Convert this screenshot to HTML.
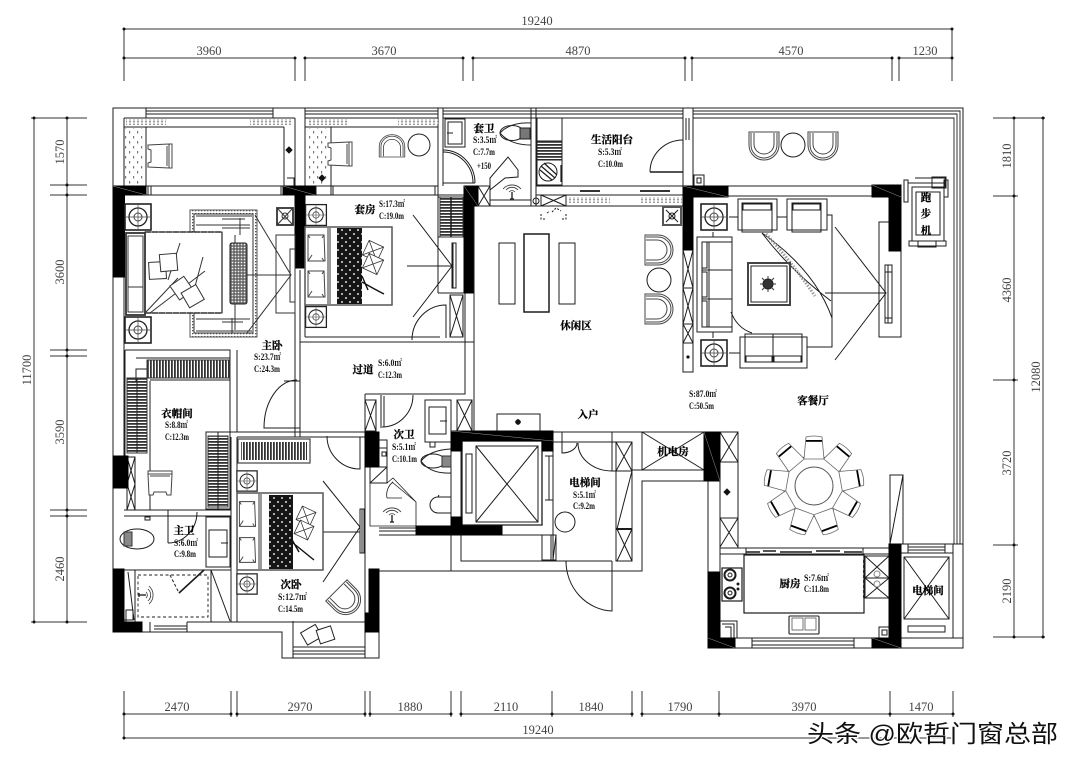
<!DOCTYPE html>
<html><head><meta charset="utf-8"><style>
html,body{margin:0;padding:0;background:#fff;width:1080px;height:767px;overflow:hidden}
svg{display:block;filter:blur(.35px)}
.d{font-family:"Liberation Serif","Noto Serif CJK SC",serif;font-size:12.5px;fill:#444;text-anchor:middle;stroke:none}
.c{font-family:"Liberation Serif","Noto Serif CJK SC",serif;font-size:10.5px;font-weight:bold;fill:#000;text-anchor:middle;stroke:#000;stroke-width:.25}
.s{font-family:"Liberation Serif","Noto Serif CJK SC",serif;font-size:9px;font-weight:bold;fill:#111;stroke:none}
.k{fill:#000;stroke:#000}
.g{stroke:#666}
</style></head><body>
<svg width="1080" height="767" viewBox="0 0 1080 767" xmlns="http://www.w3.org/2000/svg">
<defs>
<pattern id="vb" width="3" height="3" patternUnits="userSpaceOnUse"><rect width="1.8" height="3" fill="#333"/></pattern>
<pattern id="hb" width="3" height="3" patternUnits="userSpaceOnUse"><rect width="3" height="1.8" fill="#333"/></pattern>
<pattern id="dt" width="3" height="3" patternUnits="userSpaceOnUse"><rect width="3" height="3" fill="#666"/><circle cx="1.5" cy="1.5" r=".9" fill="#eee"/></pattern>
<pattern id="wv" width="4" height="3" patternUnits="userSpaceOnUse"><rect width="4" height="3" fill="#fff"/><circle cx="2" cy="1.5" r="1.1" fill="#999"/></pattern>
<pattern id="qt" width="8" height="8" patternUnits="userSpaceOnUse"><rect width="8" height="8" fill="#151515"/><circle cx="2" cy="2" r="1" fill="#ddd"/><circle cx="6" cy="6" r="1" fill="#ddd"/></pattern>
<pattern id="pl" width="8" height="10" patternUnits="userSpaceOnUse"><rect width="8" height="10" fill="#fff"/><rect x="1" y="1" width="1.2" height="2.5" fill="#777"/><rect x="5" y="6" width="1.2" height="2.5" fill="#777"/></pattern>
<pattern id="rg" width="3" height="3" patternUnits="userSpaceOnUse"><rect width="3" height="3" fill="#fff"/><rect width="1.3" height="1.3" fill="#555"/></pattern>
<g id="lamp"><rect x="-13" y="-13" width="26" height="26" fill="#fff" stroke="#222" stroke-width="1.6"/><circle r="9" fill="none" stroke="#222" stroke-width="1.3"/><circle r="4" fill="none" stroke="#444"/><path d="M-12,0H12M0,-12V12" stroke="#444" stroke-width=".7"/></g>
<g id="u"><path d="M-15,-15V-2A15,15 0 0 0 15,-2V-15ZM-13,-14V-2A13,13 0 0 0 13,-2V-14M-10,-14V-3A10,10 0 0 0 10,-3V-14" fill="#fff" stroke="#444"/></g>
<g id="chair"><path d="M-12,-11 9,-12 12,-12V12L9,12-12,11V7L-9,6V-6L-12,-7Z M9,-12V12 M7,-10V10" fill="#fff" stroke="#444"/></g>
<g id="dc"><path d="M-8,-49Q0,-51 8,-49L10,-27H-10Z" fill="#fff" stroke="#666" stroke-width=".8"/><rect x="-8" y="-46" width="16" height="1.8" fill="#000"/></g>
<g id="fan" fill="none" stroke="#333" stroke-width=".8"><path d="M-3,0A4,4 0 0 1 3,0M-6,-2A8,8 0 0 1 6,-2M-9,-3A12,12 0 0 1 9,-3"/><path d="M0,0V7M-2,7H2" stroke-width="1.5"/></g>
<g id="pillow"><path d="M-8,-13H8L9,13H-8Z M-8,-13 -6,-10M8,-13 6,-10M-8,13 -4,7M8,13 6,10" fill="#fff" stroke="#444"/></g>
<g id="sq"><path d="M-10,-10H10V10H-10Z M-10,-10 10,10M10,-10 -10,10" fill="#fff" stroke="#333"/></g>
</defs>
<rect width="1080" height="767" fill="#fff"/>

<!-- DIMENSIONS -->
<g fill="none" stroke="#333" stroke-width="1">
<path d="M124,29H952M124,29V81M124,58H295M295,58V81M305,58H463M305,58V81M463,58V81M473,58H685M473,58V81M685,58V81M692,58H892M692,58V81M892,58V81M899,58H952M899,58V81M952,29V81"/>
<path d="M31,118H87M34,118V622M67,118V622M31,622H87M50,185H87M50,195H87M50,350H87M50,356H87M50,510H87M50,516H87"/>
<path d="M993,118H1045M1014,118V637M1043,118V637M993,196H1018M993,380H1018M993,545H1018M993,637H1045"/>
<path d="M124,691V738M124,714H231M231,691V717M237,691V717M237,714H365M365,691V717M370,691V717M370,714H451M451,691V717M461,691V717M461,714H632M552,691V717M632,691V717M642,691V717M642,714H953M719,691V717M890,691V717M953,691V717M124,738H953"/>
</g>
<g fill="#111" stroke="none"><circle cx="124" cy="29" r="1.5"/><circle cx="124" cy="58" r="1.5"/><circle cx="295" cy="58" r="1.5"/><circle cx="305" cy="58" r="1.5"/><circle cx="463" cy="58" r="1.5"/><circle cx="473" cy="58" r="1.5"/><circle cx="685" cy="58" r="1.5"/><circle cx="692" cy="58" r="1.5"/><circle cx="892" cy="58" r="1.5"/><circle cx="899" cy="58" r="1.5"/><circle cx="952" cy="58" r="1.5"/><circle cx="952" cy="29" r="1.5"/>
<circle cx="34" cy="118" r="1.5"/><circle cx="67" cy="118" r="1.5"/><circle cx="67" cy="185" r="1.5"/><circle cx="67" cy="195" r="1.5"/><circle cx="67" cy="350" r="1.5"/><circle cx="67" cy="356" r="1.5"/><circle cx="67" cy="510" r="1.5"/><circle cx="67" cy="516" r="1.5"/><circle cx="67" cy="622" r="1.5"/><circle cx="34" cy="622" r="1.5"/>
<circle cx="1014" cy="118" r="1.5"/><circle cx="1043" cy="118" r="1.5"/><circle cx="1014" cy="196" r="1.5"/><circle cx="1014" cy="380" r="1.5"/><circle cx="1014" cy="545" r="1.5"/><circle cx="1014" cy="637" r="1.5"/><circle cx="1043" cy="637" r="1.5"/>
<circle cx="124" cy="714" r="1.5"/><circle cx="231" cy="714" r="1.5"/><circle cx="237" cy="714" r="1.5"/><circle cx="365" cy="714" r="1.5"/><circle cx="370" cy="714" r="1.5"/><circle cx="451" cy="714" r="1.5"/><circle cx="461" cy="714" r="1.5"/><circle cx="552" cy="714" r="1.5"/><circle cx="632" cy="714" r="1.5"/><circle cx="642" cy="714" r="1.5"/><circle cx="719" cy="714" r="1.5"/><circle cx="890" cy="714" r="1.5"/><circle cx="953" cy="714" r="1.5"/><circle cx="124" cy="738" r="1.5"/></g>
<text class="d" x="537" y="25">19240</text><text class="d" x="209" y="55">3960</text><text class="d" x="384" y="55">3670</text><text class="d" x="578" y="55">4870</text><text class="d" x="791" y="55">4570</text><text class="d" x="925" y="55">1230</text>
<text class="d" transform="translate(64,152) rotate(-90)">1570</text><text class="d" transform="translate(64,272) rotate(-90)">3600</text><text class="d" transform="translate(64,432) rotate(-90)">3590</text><text class="d" transform="translate(64,569) rotate(-90)">2460</text><text class="d" transform="translate(31,370) rotate(-90)">11700</text>
<text class="d" transform="translate(1011,156) rotate(-90)">1810</text><text class="d" transform="translate(1011,290) rotate(-90)">4360</text><text class="d" transform="translate(1011,463) rotate(-90)">3720</text><text class="d" transform="translate(1011,591) rotate(-90)">2190</text><text class="d" transform="translate(1040,377) rotate(-90)">12080</text>
<text class="d" x="177" y="711">2470</text><text class="d" x="300" y="711">2970</text><text class="d" x="410" y="711">1880</text><text class="d" x="506" y="711">2110</text><text class="d" x="591" y="711">1840</text><text class="d" x="680" y="711">1790</text><text class="d" x="804" y="711">3970</text><text class="d" x="921" y="711">1470</text><text class="d" x="538" y="734">19240</text>

<!-- STRUCTURE LINES -->
<g fill="none" stroke="#1c1c1c" stroke-width="1">
<path d="M146,108H963V648H708V481H642V571H379V658H282V632H113V108H146"/>
<path d="M146,111H273M146,114H273M146,118H273M305,111H438M305,114H438M305,118H438M443,111H683M443,114H683M443,118H683M693,111H960V544M693,114H957V544M693,118H954V544" stroke-width=".9"/>
<path d="M146,108V118M273,108V118M305,108V118M438,108V186M443,108V186M531,108V206M536,108V206M683,108V186M693,108V186M686,118V140M689,118V140"/>
<!-- balcony left -->
<path d="M124,118V186M124,127H284M295,118V186M146,127V186M284,127V186M287,178H294V186M124,118H295"/>
<path d="M305,118V186M305,127H438M331,127V186M305,118H438"/>
<path d="M113,186H438M113,195H467M331,186V195M316,186V195M148,186V195M151,186V195M281,186V195M333,186V195M435,186V195"/>
<!-- suite bathroom -->
<path d="M445,119H465V147H445ZM448,122H462V144H448ZM447,133H453"/>
<path d="M443,150A32,33 0 0 1 475,183M443,152A30,31 0 0 1 473,183M443,183H475" />
<path d="M490,206V178L508,157L518,170V177L505,178L490,190M490,200H531M478,186H490V206H478ZM478,186 490,206M490,186 478,206"/>
<!-- washing -->
<path d="M537,118H562V185H537ZM537,141H562M537,160H562"/>
<rect x="537" y="141" width="25" height="19" fill="url(#hb)" stroke="#222"/>
<circle cx="548" cy="172" r="9"/><path d="M541,166 555,178M540,170 552,180M544,163 557,175M561,165V182" stroke-width="1.2"/>
<path d="M536,186H683M536,195H683M473,206H683M541,195H566V206H541ZM541,195 566,206M566,195 541,206"/>
<circle cx="536" cy="201" r="3"/>
<path d="M541,214V219H545M566,214V219H562M552,212 556,208 561,211M547,213 550,211" stroke-dasharray="2 1.5"/>
<path d="M580,191H600M640,191H670" stroke-width="2" stroke="#333"/>
<rect x="568" y="197" width="42" height="6" fill="url(#wv)" stroke="none"/><rect x="640" y="197" width="42" height="6" fill="url(#wv)" stroke="none"/>
<path d="M650,172A33,32 0 0 1 683,140M650,172H683" />
<path d="M650,172H683" stroke-width="1.6"/>
<rect x="694" y="175" width="10" height="11"/><rect x="697" y="178" width="4" height="5"/>
<rect x="663" y="207" width="18" height="18" stroke="#555" stroke-width="2"/><path d="M666,210 678,222M678,210 666,222"/><circle cx="672" cy="216" r="3"/>
<!-- master walls -->
<path d="M124,277V456M295,270V437M300,270V437M305,195V337M305,337H440M300,342H465V394H365M465,342H474M465,293V342M474,206V432"/>
<path d="M125,350H230V432M237,350V432M230,432H365M237,437H365M231,437V622M237,437V622"/>
<!-- door main bedroom -->
<path d="M297,380A33,48 0 0 0 264,428H300M284,381H300"/>
<!-- wardrobe room -->
<path d="M136,381V369H147V381M125,350V456M150,381V510M136,358H230V380H150"/>
<rect x="147" y="360" width="83" height="18" fill="url(#vb)" stroke="#333"/>
<rect x="127" y="378" width="20" height="75" fill="url(#hb)" stroke="#333"/>
<path d="M137,378V453" stroke="#222"/>
<path d="M206,432H230V509H206ZM218,432V509"/>
<rect x="208" y="436" width="20" height="71" fill="url(#hb)" stroke="#333"/>
<path d="M218,436V507"/>
<path d="M127,457H135V510H127ZM127,457 135,484 127,510M135,457 127,484 135,510"/>
<!-- master bath -->
<path d="M124,510H231M124,516H231M168,510V543M168,543A29,31 0 0 0 197,512M124,570H231M206,517H230V567H206ZM209,530H227V557H209ZM221,543H228"/>
<rect x="145" y="517" width="5" height="3"/>
<ellipse cx="137" cy="539" rx="17" ry="10"/><rect x="124" y="532" width="8" height="14" fill="#888" stroke="#333"/>
<path d="M135,570V622M211,570V622M211,570 230,621M179,593 204,570" />
<path d="M179,593 204,570" stroke-width="1.6"/>
<path d="M138,575H208V617H138Z" stroke-dasharray="3 2.5" stroke-width=".9"/>
<path d="M170,575 179,593" stroke-dasharray="3 2"/>
<path d="M124,620H133V610H126V622M128,572 134,620"/>
<path d="M187,622H365M187,622V632M150,622V632M154,626H187M154,629H187M142,622V632"/>
<!-- 次卧 bay -->
<path d="M293,621V658M365,621V658M293,647H365M293,651H365M293,654H365"/>
<!-- suite room -->
<path d="M438,186V293M438,197H463M438,293H465M438,237H464"/>
<rect x="440" y="197" width="23" height="40" fill="url(#hb)" stroke="#333"/>
<path d="M451,197V237" stroke-width="1.5"/>
<path d="M452,243H456V288H452ZM453,243V288" />
<path d="M450,295H463V337H450ZM450,295 463,337M463,295 450,337"/>
<path d="M412,340A34,35 0 0 1 446,305V338M412,340V337"/>
<path d="M413,215 452,266 413,317M407,266H452" />
<!-- 次卫 -->
<path d="M365,394V432M365,467V613M365,400H376V431H365ZM365,400 376,431M376,400 365,431M381,395V428M384,396V427M413,395A31,32 0 0 1 382,427"/>
<path d="M425,400H451V442H425ZM429,407H446V434H429ZM440,421H447M430,442V447H435V442"/>
<path d="M457,400H472V431H457ZM457,400 472,431M472,400 457,431"/>
<path d="M451,431V571M461,525V561H612M553,431V561M461,441V525"/>
<path d="M462,441H542V525H462Z" stroke-width="1.3"/>
<path d="M476,446H538V522H476ZM476,446 538,522M538,446 476,522M466,454H472V513H466Z"/>
<path d="M545,456H553V500H545M549,456V500M542,500V525"/>
<path d="M416,535H542M542,535H556V560H542ZM551,535V560M556,535 553,560"/>
<path d="M438,497A8,8 0 0 0 438,513H451V497ZM438,497 439,495"/>
<ellipse cx="433" cy="461" rx="12" ry="7"/><rect x="442" y="456" width="9" height="11" fill="#888" stroke="#333"/>
<path d="M421,461Q430,450 451,449M421,461Q430,474 451,473"/>
<circle cx="565" cy="522" r="10"/>
<path d="M370,467H387V483H370ZM370,483 387,467M379,440H387V467M379,448H387M382,452H386V456H382Z"/>
<path d="M370,483V526H416V502L393,478 387,483M416,502 392,482M387,498H402M387,498A16,16 0 0 1 393,482" stroke-width=".8"/>
<path d="M379,528H416M379,531H416M379,535H416"/>
<!-- lift hall -->
<path d="M553,432H613M553,442H632M562,432V453A15,10 0 0 0 577,443M578,443A34,28 0 0 0 612,471M612,432V471M612,471H616"/>
<path d="M616,442H632V561H616ZM616,471H632M616,529H632M616,442 632,471M632,442 616,471M617,529 632,561M632,529 617,561M632,471 617,529"/>
<path d="M616,529H632" stroke-width="2"/>
<path d="M613,432H642M642,432H704V470H642ZM642,470 704,432M642,432 704,470M632,470H642M566,561A48,50 0 0 0 612,611V561M566,561V563"/>
<rect x="497" y="414" width="43" height="18"/>
<path d="M518,419V425M515,422H521" stroke-width="1"/><circle cx="518" cy="422" r="2.2" fill="#111"/>
<!-- living right wall cabinets -->
<path d="M683,250V372H693V250M683,288H693M683,324H693M683,343H693M683,250 693,288M693,250 683,288M683,288 693,324M693,288 683,324M683,324 693,343M693,324 683,343"/>
<path d="M683,343H693"/><circle cx="688" cy="357" r="1.6" fill="#111" stroke="none"/>
<!-- living -->
<path d="M693,186H728M728,186H872M728,196H872"/>
<path d="M697,237H732V332H697ZM702,242H732V327H702ZM709,242V327M702,270H732M702,299H732" />
<path d="M702,242H707V268H702ZM702,272H707V297H702ZM702,301H707V327H702Z"/>
<path d="M713,232V237M713,332V338M729,217H738M777,217H787"/>
<path d="M738,199H777V230H738ZM742,203H772V232H742ZM743,204H771V210H743Z" fill="#fff"/>
<path d="M787,199H827V230H787ZM792,203H821V232H792ZM793,204H820V210H793Z" fill="#fff"/>
<path d="M827,215H832V347H807M729,353H740"/>
<path d="M740,337H807V368H740ZM745,334H802V362H745ZM773,334V362M746,356H772V362H746ZM774,356H801V362H774Z" fill="#fff"/>
<path d="M762,233Q815,270 832,318M762,233Q790,270 831,301M731,312Q737,328 752,333"/>
<path d="M766,234Q790,260 815,296" stroke="#999" stroke-width="3" stroke-dasharray="1.5 1.5"/>
<path d="M835,227 886,293 835,360M825,293H886"/>
<path d="M879,222H901V337H879ZM885,265H892V323H885ZM888,265V323M885,272H892M885,318H892"/>
<rect x="748" y="263" width="42" height="42" stroke="#444" stroke-width="2"/><rect x="751" y="266" width="36" height="36"/>
<circle cx="768" cy="284" r="5" fill="#333"/><path d="M768,276V292M760,284H776M762,278 774,290M774,278 762,290" stroke="#333"/>
<!-- treadmill -->
<path d="M904,180H908V202H904ZM944,180H948V197H944ZM908,183H946M915,178H945V187H915M932,177H946V188H932ZM912,187H944V241H912ZM916,192H940V235H916ZM909,241H946V246H909ZM918,241H936V247H918Z"/>
<circle cx="793" cy="145" r="12"/><circle cx="659" cy="280" r="12"/>
<rect x="499" y="243" width="16" height="61"/><rect x="524" y="234" width="25" height="78" stroke-width="1.5"/><rect x="559" y="243" width="16" height="61"/>
<!-- lower right -->
<path d="M720,432H738V548M720,462H738M720,518H738M720,432 738,462M738,432 720,462M720,518 738,547M738,518 720,547M704,432H738M720,481V572"/>
<path d="M727,489 730,492 727,495 724,492Z" fill="#111"/>
<path d="M720,548H746V554H720ZM746,548H863M746,554H863M863,548H889V554H863ZM746,548V554M863,548V554"/>
<path d="M763,551H776M816,551H840M746,552H760M780,552H812M844,552H862" stroke-width="1.4"/>
<rect x="744" y="555" width="120" height="58" stroke-width="1.2"/>
<path d="M890,544V475H903V544M903,475 890,544M901,544H963"/>
<path d="M901,553H953M908,544V553M945,544V553M908,547H945M908,550H945M953,544V553M953,553V638M901,638H963M904,557H949V619H904ZM904,557 949,619M949,557 904,619"/>
<rect x="908" y="626" width="37" height="6"/>
<path d="M865,556H889V598H865ZM865,578H889M865,556 889,578M889,556 865,578M865,578 889,598M889,578 865,598"/>
<circle cx="877" cy="574" r="3" stroke="#888"/><circle cx="877" cy="584" r="3" stroke="#888"/>
<path d="M864,560V600" stroke-width="1.8" stroke-dasharray="3 2"/>
<rect x="722" y="568" width="20" height="33" stroke-width="1.2"/>
<circle cx="730" cy="575" r="5.5" stroke-width="2"/><circle cx="730" cy="593" r="5.5" stroke-width="2"/><circle cx="730" cy="575" r="2"/><circle cx="730" cy="593" r="2"/><circle cx="738" cy="584" r="1" fill="#111"/><circle cx="738" cy="589" r="1" fill="#111"/>
<path d="M720,638H889M720,621H737V638M722,624H734V638M725,627H731V638"/>
<rect x="789" y="616" width="30" height="18" rx="1" stroke-width="1.1"/><rect x="792" y="618" width="11" height="12" stroke="#555" stroke-width=".8"/><rect x="805" y="618" width="11" height="12" stroke="#555" stroke-width=".8"/>
<path d="M735,638V648M752,638V648M854,638V648M872,638V648M752,641H854M752,645H854"/>
<rect x="879" y="627" width="10" height="11"/><rect x="882" y="630" width="5" height="5"/>
<circle cx="814" cy="486" r="30" stroke-width="1.4"/><circle cx="814" cy="486" r="19" stroke="#555"/>
<!-- 次卧 door -->
<path d="M327,436A33,33 0 0 0 360,469V437M360,437V469"/>
<path d="M323,481 360,527 323,582M315,532H360"/>
<path d="M360,509H364V553H360ZM362,509V553"/>
</g>

<!-- hatch strips -->
<rect x="126" y="119" width="40" height="6" fill="url(#wv)"/><rect x="250" y="119" width="42" height="6" fill="url(#wv)"/>
<rect x="307" y="119" width="42" height="6" fill="url(#wv)"/><rect x="398" y="119" width="40" height="6" fill="url(#wv)"/>
<rect x="125" y="128" width="20" height="56" fill="url(#pl)"/><rect x="307" y="128" width="22" height="56" fill="url(#pl)"/>
<path d="M289,147 292,150 289,153 286,150Z M322,175 325,178 322,181 319,178Z" fill="#111" stroke="#111"/>

<!-- BLACK WALLS -->
<g class="k">
<rect x="113" y="186" width="33" height="9"/><rect x="113" y="186" width="11.5" height="91"/>
<path d="M283,186H315V195H305V268H295V195H283Z"/>
<path d="M464,186H478V206H473V293H464Z"/>
<path d="M683,186H728V197H693V250H683Z"/>
<path d="M872,185H901V251H889V197H872Z"/>
<rect x="113" y="456" width="15" height="32"/>
<rect x="113" y="569" width="11" height="53"/><rect x="113" y="622" width="29" height="10"/>
<rect x="365" y="432" width="14" height="35"/>
<rect x="369" y="569" width="10" height="44"/><rect x="365" y="613" width="14" height="19"/>
<path d="M451,431H553V451H542V441H462V451H451Z"/>
<rect x="416" y="526" width="86" height="9"/><rect x="451" y="517" width="11" height="9"/>
<rect x="704" y="432" width="16" height="49"/>
<rect x="708" y="572" width="12" height="66"/><rect x="708" y="638" width="27" height="10"/>
<rect x="872" y="638" width="29" height="10"/><rect x="889" y="544" width="12" height="94"/>
</g>
<g stroke="#999" stroke-width=".5" fill="none"><path d="M113,186 146,195M283,186 315,195M464,186 478,206M683,186 728,197M872,185 901,197M708,638 735,648M872,638 901,648M704,432 720,481M451,431 553,441"/></g>

<!-- master bedroom furniture -->
<rect x="190" y="210" width="67" height="127" fill="url(#rg)" stroke="#555"/>
<rect x="194" y="214" width="59" height="119" fill="#fff" stroke="#333"/>
<g fill="none" stroke="#333">
<path d="M145,232H222V313H145Z" fill="#fff" stroke-width="1"/>
<path d="M145,232H222" stroke-width="1.6" stroke-dasharray="6 1"/><path d="M145,313H222" stroke-width="1.6" stroke-dasharray="6 1"/>
<rect x="126" y="233" width="19" height="82" stroke-width="1.8" fill="#fff"/>
<rect x="128" y="236" width="15" height="76"/><path d="M128,287H143"/>
<path d="M222,232V313" stroke-width="1.3"/>
<path d="M196,216H252M196,225H250M196,331H252M196,319H250M222,219H245M222,228H250M222,322H243M240,218V235M232,318V333M235,235V330"/>
<path d="M146,312 178,278M150,313 205,271M180,243 168,280M203,257 194,290"/>
<path d="M255,215 291,275 247,333M237,275H291"/>
<rect x="276" y="235" width="19" height="78"/><rect x="290" y="249" width="5" height="53"/>
<rect x="277" y="208" width="16" height="17" stroke-width="1.8"/><path d="M277,208 293,225M293,208 277,225"/><circle cx="285" cy="216" r="3"/>
</g>
<rect x="230" y="243" width="17" height="61" rx="2" fill="url(#dt)" stroke="#222"/>
<g fill="#fff" stroke="#333"><rect x="149" y="262" width="17" height="17" transform="rotate(-3 157 270)"/><rect x="160" y="254" width="17" height="17" transform="rotate(-5 168 262)"/><rect x="173" y="280" width="17" height="17" transform="rotate(-35 181 288)"/><rect x="184" y="288" width="17" height="17" transform="rotate(-30 192 296)"/></g>
<use href="#lamp" x="138" y="217"/><use href="#lamp" x="138" y="330"/>

<!-- suite bed -->
<g stroke="#333" fill="none">
<rect x="305" y="227" width="87" height="78" stroke="#555" stroke-width="1.5" fill="#fff"/>
<path d="M328,228V304M330,228V304"/></g>
<use href="#pillow" x="316" y="248"/><use href="#pillow" x="316" y="284"/>
<rect x="337" y="228" width="25" height="76" fill="url(#qt)"/>
<use href="#sq" transform="translate(373,251) rotate(25) scale(.8)"/><use href="#sq" transform="translate(373,264) rotate(25) scale(.8)"/>
<path d="M362,282Q376,290 384,294M362,276 368,290" stroke="#111" stroke-width="1.4" fill="none"/>
<use href="#lamp" transform="translate(316,215) scale(.8)"/><use href="#lamp" transform="translate(316,317) scale(.8)"/>

<!-- second bed -->
<rect x="238" y="439" width="72" height="24" fill="#fff" stroke="#444" stroke-width="1.2"/><rect x="241" y="442" width="66" height="18" fill="url(#vb)"/>
<rect x="237" y="493" width="86" height="77" fill="#fff" stroke="#555" stroke-width="1.5"/>
<path d="M259,494V569M261,494V569" stroke="#333"/>
<use href="#pillow" transform="translate(247,514) scale(.95)"/><use href="#pillow" transform="translate(247,550) scale(.95)"/>
<rect x="269" y="495" width="24" height="74" fill="url(#qt)"/>
<use href="#sq" transform="translate(306,516) rotate(25) scale(.75)"/><use href="#sq" transform="translate(304,530) rotate(25) scale(.75)"/>
<path d="M293,543 314,560M291,538 299,552" stroke="#111" stroke-width="1.4" fill="none"/>
<use href="#lamp" transform="translate(247,481) scale(.78)"/><use href="#lamp" transform="translate(247,584) scale(.78)"/>
<use href="#u" transform="translate(347,601) rotate(-45)"/>
<g stroke="#222" fill="#fff"><rect x="303" y="628" width="17" height="14" transform="rotate(-30 311 635)"/><rect x="318" y="628" width="15" height="14" transform="rotate(-18 325 635)"/></g>

<!-- chairs -->
<use href="#chair" x="160" y="156"/><use href="#chair" x="340" y="154"/><use href="#chair" transform="translate(160,483) rotate(-90)"/>
<use href="#u" transform="translate(392,145) rotate(180) scale(.85,.8)"/><circle cx="419" cy="145" r="11" fill="none" stroke="#222"/>
<use href="#u" x="764" y="147"/><use href="#u" x="823" y="147"/>
<use href="#u" transform="translate(660,250) rotate(-90)"/><use href="#u" transform="translate(660,309) rotate(-90)"/>
<use href="#lamp" x="714" y="217"/><use href="#lamp" x="714" y="353"/>
<g transform="translate(814,486)"><use href="#dc"/><use href="#dc" transform="rotate(40)"/><use href="#dc" transform="rotate(80)"/><use href="#dc" transform="rotate(120)"/><use href="#dc" transform="rotate(160)"/><use href="#dc" transform="rotate(200)"/><use href="#dc" transform="rotate(240)"/><use href="#dc" transform="rotate(280)"/><use href="#dc" transform="rotate(320)"/></g>

<!-- toilet suite bath -->
<ellipse cx="512" cy="133" rx="12" ry="7.5" fill="#fff" stroke="#222"/><rect x="520" y="128" width="10" height="11" fill="#777" stroke="#222"/><path d="M500,133Q510,122 531,123M500,133Q510,145 531,145" fill="none" stroke="#222"/>
<use href="#fan" x="512" y="192"/><use href="#fan" x="392" y="515"/><use href="#fan" transform="translate(146,595) rotate(90)"/>

<!-- LABELS -->
<text class="c" x="272" y="349">主卧</text><text class="s" x="254" y="360" textLength="27" lengthAdjust="spacingAndGlyphs">S:23.7㎡</text><text class="s" x="254" y="372" textLength="26" lengthAdjust="spacingAndGlyphs">C:24.3m</text>
<text class="c" x="365" y="213">套房</text><text class="s" x="379" y="207" textLength="26" lengthAdjust="spacingAndGlyphs">S:17.3㎡</text><text class="s" x="379" y="219" textLength="25" lengthAdjust="spacingAndGlyphs">C:19.0m</text>
<text class="c" x="363" y="373">过道</text><text class="s" x="378" y="366" textLength="24" lengthAdjust="spacingAndGlyphs">S:6.0㎡</text><text class="s" x="378" y="378" textLength="24" lengthAdjust="spacingAndGlyphs">C:12.3m</text>
<text class="c" x="177" y="417">衣帽间</text><text class="s" x="165" y="428" textLength="23" lengthAdjust="spacingAndGlyphs">S:8.8㎡</text><text class="s" x="165" y="440" textLength="24" lengthAdjust="spacingAndGlyphs">C:12.3m</text>
<text class="c" x="184" y="534">主卫</text><text class="s" x="174" y="546" textLength="24" lengthAdjust="spacingAndGlyphs">S:6.0㎡</text><text class="s" x="174" y="557" textLength="22" lengthAdjust="spacingAndGlyphs">C:9.8m</text>
<text class="c" x="291" y="588">次卧</text><text class="s" x="278" y="600" textLength="29" lengthAdjust="spacingAndGlyphs">S:12.7㎡</text><text class="s" x="278" y="612" textLength="25" lengthAdjust="spacingAndGlyphs">C:14.5m</text>
<text class="c" x="404" y="438">次卫</text><text class="s" x="392" y="450" textLength="24" lengthAdjust="spacingAndGlyphs">S:5.1㎡</text><text class="s" x="392" y="462" textLength="25" lengthAdjust="spacingAndGlyphs">C:10.1m</text>
<text class="c" x="484" y="132">套卫</text><text class="s" x="473" y="143" textLength="24" lengthAdjust="spacingAndGlyphs">S:3.5㎡</text><text class="s" x="473" y="155" textLength="22" lengthAdjust="spacingAndGlyphs">C:7.7m</text><text class="s" x="477" y="169" textLength="14" lengthAdjust="spacingAndGlyphs">+150</text>
<text class="c" x="612" y="143">生活阳台</text><text class="s" x="598" y="155" textLength="24" lengthAdjust="spacingAndGlyphs">S:5.3㎡</text><text class="s" x="598" y="167" textLength="25" lengthAdjust="spacingAndGlyphs">C:10.0m</text>
<text class="c" x="576" y="329">休闲区</text><text class="c" x="588" y="418">入户</text>
<text class="s" x="689" y="397" textLength="28" lengthAdjust="spacingAndGlyphs">S:87.0㎡</text><text class="s" x="689" y="409" textLength="25" lengthAdjust="spacingAndGlyphs">C:50.5m</text>
<text class="c" x="813" y="404">客餐厅</text>
<text class="c" x="585" y="486">电梯间</text><text class="s" x="573" y="498" textLength="23" lengthAdjust="spacingAndGlyphs">S:5.1㎡</text><text class="s" x="573" y="509" textLength="22" lengthAdjust="spacingAndGlyphs">C:9.2m</text>
<text class="c" x="673" y="455">机电房</text>
<text class="c" x="790" y="587">厨房</text><text class="s" x="804" y="581" textLength="25" lengthAdjust="spacingAndGlyphs">S:7.6㎡</text><text class="s" x="804" y="592" textLength="25" lengthAdjust="spacingAndGlyphs">C:11.8m</text>
<text class="c" x="928" y="594">电梯间</text>
<text class="c" x="926" y="201">跑</text><text class="c" x="926" y="217">步</text><text class="c" x="926" y="234">机</text>

<!-- WATERMARK -->
<text x="807" y="742" font-family="'Liberation Sans','Noto Sans CJK SC',sans-serif" font-size="24" fill="#111" stroke="#fff" stroke-width="2.5" paint-order="stroke" textLength="251" lengthAdjust="spacingAndGlyphs">头条 @欧哲门窗总部</text>
</svg>
</body></html>
